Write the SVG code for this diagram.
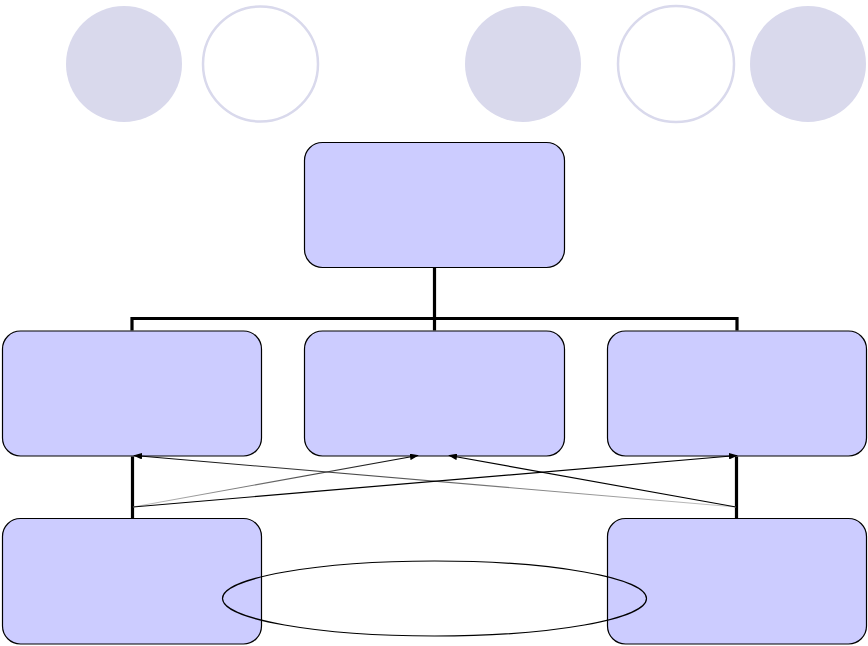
<svg xmlns="http://www.w3.org/2000/svg" width="868" height="646" viewBox="0 0 868 646">
<style>
.box{fill:#ccccff;stroke:#000;stroke-width:1.2}
.dot{fill:#d9d9ec;stroke:none}
.ring{fill:#fff;stroke:#d9d9ec;stroke-width:2.5}
.tree{stroke:#000;stroke-width:3.2;fill:none}
.link{stroke:#000;stroke-width:1.2;fill:none}
</style>
<defs>
<marker id="arr" viewBox="0 0 10 10" refX="9" refY="5" markerWidth="9" markerHeight="6.5" markerUnits="userSpaceOnUse" orient="auto" preserveAspectRatio="none">
<path d="M0,0 L10,5 L0,10 z" fill="#000"/>
</marker>
<linearGradient id="gL" gradientUnits="userSpaceOnUse" x1="737" y1="507" x2="135" y2="455">
<stop offset="0" stop-color="#c8c8c8"/><stop offset="1" stop-color="#000"/>
</linearGradient>
<linearGradient id="gM" gradientUnits="userSpaceOnUse" x1="132" y1="507" x2="417" y2="455">
<stop offset="0" stop-color="#c8c8c8"/><stop offset="1" stop-color="#000"/>
</linearGradient>
</defs>
<rect width="868" height="646" fill="#fff"/>
<g id="circles">
<circle class="dot" cx="124" cy="64" r="58"/>
<circle class="ring" cx="260.5" cy="64" r="57.5"/>
<circle class="dot" cx="523" cy="64" r="58"/>
<circle class="ring" cx="676" cy="64" r="58"/>
<circle class="dot" cx="808" cy="64" r="58"/>
</g>
<g id="top"><rect class="box" x="304.5" y="142.5" width="260" height="125" rx="18"/></g>
<g id="mid-left"><rect class="box" x="2.5" y="331" width="259" height="125" rx="18"/></g>
<g id="mid-center"><rect class="box" x="304.5" y="331" width="260" height="125" rx="18"/></g>
<g id="mid-right"><rect class="box" x="607.5" y="331" width="259" height="125" rx="18"/></g>
<g id="bottom-left"><rect class="box" x="2.5" y="518.5" width="259" height="125.5" rx="18"/></g>
<g id="bottom-right"><rect class="box" x="607.5" y="518.5" width="259" height="125.5" rx="18"/></g>
<g id="connectors">
<path class="tree" d="M434.5,268 V318.5 M132,330.5 V318.5 H737 V330.5 M434.5,318.5 V330.5"/>
<path class="tree" d="M132.5,518 V456.5 M736.5,518 V456.5"/>
<line stroke="url(#gL)" stroke-width="1.1" x1="736" y1="507" x2="134" y2="455.5" marker-end="url(#arr)"/>
<line stroke="url(#gM)" stroke-width="1.1" x1="133" y1="507" x2="418" y2="455.5" marker-end="url(#arr)"/>
<line class="link" x1="133" y1="507" x2="737" y2="455.5" marker-end="url(#arr)"/>
<line class="link" x1="736" y1="507" x2="449" y2="455.5" marker-end="url(#arr)"/>
</g>
<g id="ellipse"><ellipse cx="434.5" cy="598.5" rx="212" ry="37.5" fill="none" stroke="#000" stroke-width="1.2"/></g>
</svg>
